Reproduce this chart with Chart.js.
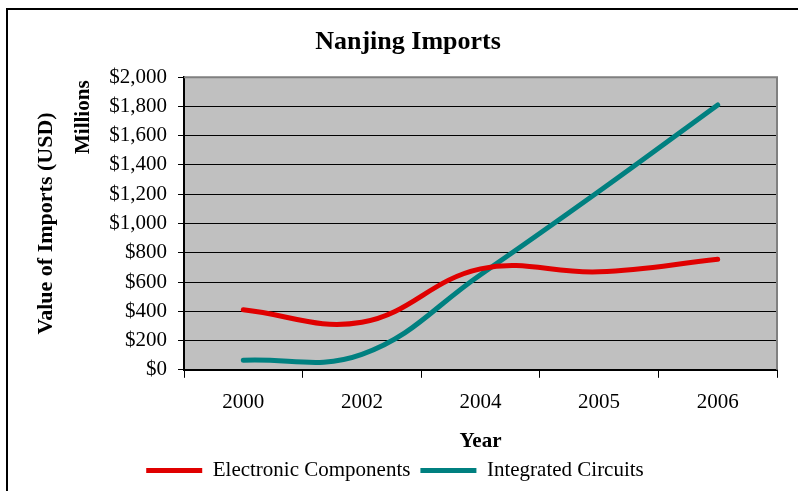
<!DOCTYPE html>
<html>
<head>
<meta charset="utf-8">
<script src="https://cdn.jsdelivr.net/npm/chart.js@4.4.0/dist/chart.umd.min.js"></script>
<style>
  html, body { margin: 0; padding: 0; background: #fff; overflow: hidden; }
  #wrap { position: relative; width: 798px; height: 491px; }
  #frame { position: absolute; left: 6px; top: 8px; width: 900px; height: 600px;
           border-left: 2px solid #000; border-top: 2px solid #000; pointer-events: none; }
</style>
</head>
<body>
<div id="wrap">
  <canvas id="imports" width="798" height="491"></canvas>
  <div id="frame"></div>
</div>
<script>
var years = ["2000", "2002", "2004", "2005", "2006"];
var electronicComponents = [410, 325, 690, 670, 755];
var integratedCircuits = [65, 105, 650, 1220, 1810];

var serif = "'Liberation Serif', 'Times New Roman', serif";

// grey plot area, grey top/right border, "Millions" label
var plotDecor = {
  id: "plotDecor",
  beforeDraw: function (chart) {
    var a = chart.chartArea, c = chart.ctx;
    c.save();
    c.fillStyle = "#C0C0C0";
    c.fillRect(a.left, a.top, a.right - a.left, a.bottom - a.top);
    c.restore();
    // legend sits a bit left of centre in the original
    if (chart.legend && !chart.legend._shifted) {
      chart.legend.left -= 13;
      chart.legend.right -= 13;
      chart.legend._shifted = true;
    }
  },
  beforeDatasetsDraw: function (chart) {
    var a = chart.chartArea, c = chart.ctx;
    c.save();
    c.strokeStyle = "#808080";
    c.lineWidth = 2;
    c.beginPath();
    c.moveTo(a.left, a.top);
    c.lineTo(a.right, a.top);
    c.lineTo(a.right, a.bottom);
    c.stroke();
    c.restore();
  },
  afterDraw: function (chart) {
    var a = chart.chartArea, c = chart.ctx;
    c.save();
    c.translate(84, a.top + 40);
    c.rotate(-Math.PI / 2);
    c.font = "bold 21px " + serif;
    c.fillStyle = "#000";
    c.textAlign = "center";
    c.textBaseline = "middle";
    c.fillText("Millions", 0, 0);
    c.restore();
  }
};

var ctx = document.getElementById("imports");
var chart = new Chart(ctx, {
  type: "line",
  data: {
    labels: years,
    datasets: [{
      label: "Electronic Components",
      data: electronicComponents,
      borderColor: "#E00000",
      backgroundColor: "#E00000",
      borderWidth: 5,
      borderCapStyle: "round",
      pointRadius: 0,
      tension: 0.4
    }, {
      label: "Integrated Circuits",
      data: integratedCircuits,
      borderColor: "#008080",
      backgroundColor: "#008080",
      borderWidth: 5,
      borderCapStyle: "round",
      pointRadius: 0,
      tension: 0.4
    }]
  },
  options: {
    responsive: false,
    animation: false,
    layout: { padding: { left: 39, right: 21, top: 0, bottom: 0 } },
    plugins: {
      title: {
        display: true,
        text: "Nanjing Imports",
        color: "#000",
        font: { family: serif, size: 26, weight: "bold", lineHeight: 1.2 },
        padding: { top: 27, bottom: 19 }
      },
      legend: {
        position: "bottom",
        labels: {
          color: "#000",
          font: { family: serif, size: 21 },
          usePointStyle: true,
          pointStyle: "line",
          pointStyleWidth: 56,
          padding: 10
        }
      },
      tooltip: { enabled: false }
    },
    scales: {
      x: {
        offset: true,
        grid: { offset: true, drawOnChartArea: false, tickLength: 8, color: "#000" },
        border: { color: "#000", width: 2 },
        ticks: { color: "#000", font: { family: serif, size: 21 }, padding: 12, maxRotation: 0 },
        title: {
          display: true, text: "Year", color: "#000",
          font: { family: serif, size: 21, weight: "bold", lineHeight: 1 },
          padding: { top: 4, bottom: -2 }
        }
      },
      y: {
        min: 0,
        max: 2000,
        ticks: {
          stepSize: 200, autoSkip: false, color: "#000", padding: 11,
          font: { family: serif, size: 21 },
          callback: function (v) { return "$" + v.toLocaleString("en-US"); }
        },
        grid: {
          tickLength: 6, lineWidth: 1,
          color: function (c) { return c.tick && c.tick.value === 2000 ? "#808080" : "#000"; },
          tickColor: "#000"
        },
        border: { color: "#000", width: 2 },
        title: {
          display: true, text: "Value of Imports (USD)", color: "#000",
          font: { family: serif, size: 22, weight: "bold", lineHeight: 1 },
          padding: { top: -4, bottom: 0 }
        },
        afterFit: function (scale) { scale.width = 145; }
      }
    }
  },
  plugins: [plotDecor]
});
</script>
</body>
</html>
